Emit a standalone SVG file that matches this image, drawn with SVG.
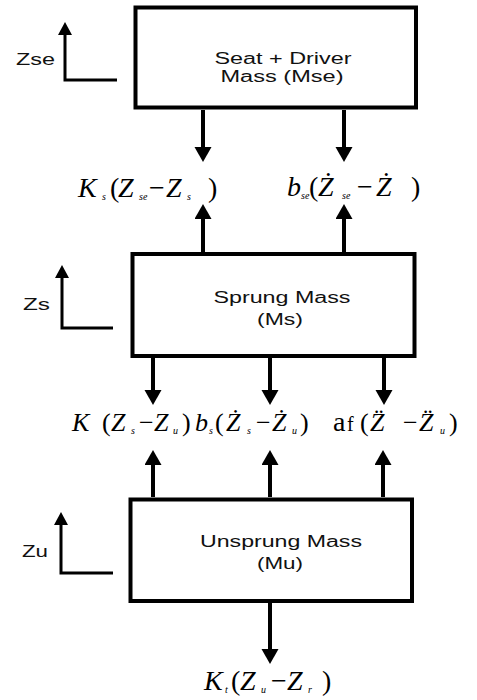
<svg xmlns="http://www.w3.org/2000/svg" width="477" height="700" viewBox="0 0 477 700">
<style>
.box{fill:#fff;stroke:#000;stroke-width:4}
.lbl{font-family:"Liberation Sans",Arial,sans-serif;font-size:16px;fill:#111;text-anchor:middle}
.ax{font-family:"Liberation Sans",Arial,sans-serif;font-size:17px;fill:#111}
.f{font-family:"Liberation Serif","Times New Roman",serif;font-size:28px;fill:#000}
.fm{font-family:"Liberation Serif","Times New Roman",serif;font-size:26px;fill:#000}
.i{font-style:italic}
.s{font-size:10px;font-style:italic}
.conn{stroke:#000;stroke-width:4;fill:none}
.axis{stroke:#000;stroke-width:3;fill:none}
</style>
<defs>
<marker id="ah" markerUnits="userSpaceOnUse" markerWidth="18" markerHeight="18" refX="3" refY="8.5" orient="auto"><path d="M0,0 L15,8.5 L0,17 z" fill="#000"/></marker>
<marker id="ah2" markerUnits="userSpaceOnUse" markerWidth="16" markerHeight="16" refX="3" refY="7" orient="auto"><path d="M0,0 L13,7 L0,14 z" fill="#000"/></marker>
</defs>
<g id="connectors">
<line class="conn" x1="203" y1="110" x2="203" y2="150" marker-end="url(#ah)"/>
<line class="conn" x1="344" y1="110" x2="344" y2="150" marker-end="url(#ah)"/>
<line class="conn" x1="203" y1="252" x2="203" y2="216" marker-end="url(#ah)"/>
<line class="conn" x1="344" y1="252" x2="344" y2="216" marker-end="url(#ah)"/>
<line class="conn" x1="153" y1="358" x2="153" y2="393" marker-end="url(#ah)"/>
<line class="conn" x1="270" y1="358" x2="270" y2="393" marker-end="url(#ah)"/>
<line class="conn" x1="384" y1="358" x2="384" y2="393" marker-end="url(#ah)"/>
<line class="conn" x1="153" y1="497" x2="153" y2="462" marker-end="url(#ah)"/>
<line class="conn" x1="270" y1="497" x2="270" y2="462" marker-end="url(#ah)"/>
<line class="conn" x1="383" y1="497" x2="383" y2="462" marker-end="url(#ah)"/>
<line class="conn" x1="270" y1="603" x2="270" y2="652" marker-end="url(#ah)"/>
</g>
<g id="axis-zse">
<polyline class="axis" points="117,80 65,80 65,32" marker-end="url(#ah2)"/>
<text class="ax" x="16" y="65" textLength="39" lengthAdjust="spacingAndGlyphs">Zse</text>
</g>
<g id="axis-zs">
<polyline class="axis" points="113,328 62,328 62,275" marker-end="url(#ah2)"/>
<text class="ax" x="23" y="310" textLength="27" lengthAdjust="spacingAndGlyphs">Zs</text>
</g>
<g id="axis-zu">
<polyline class="axis" points="113,573 61,573 61,522" marker-end="url(#ah2)"/>
<text class="ax" x="22" y="557" textLength="26" lengthAdjust="spacingAndGlyphs">Zu</text>
</g>
<g id="seat-driver">
<rect class="box" x="135.5" y="7.5" width="280.5" height="100"/>
<text class="lbl" x="283" y="64" textLength="137" lengthAdjust="spacingAndGlyphs">Seat + Driver</text>
<text class="lbl" x="282" y="82" textLength="123" lengthAdjust="spacingAndGlyphs">Mass (Mse)</text>
</g>
<g id="sprung">
<rect class="box" x="132.5" y="254" width="282" height="102"/>
<text class="lbl" x="282" y="303" textLength="137" lengthAdjust="spacingAndGlyphs">Sprung Mass</text>
<text class="lbl" x="280" y="325" textLength="46" lengthAdjust="spacingAndGlyphs">(Ms)</text>
</g>
<g id="unsprung">
<rect class="box" x="130.5" y="499.5" width="281.5" height="101.5"/>
<text class="lbl" x="281" y="547" textLength="162" lengthAdjust="spacingAndGlyphs">Unsprung Mass</text>
<text class="lbl" x="280" y="569" textLength="46" lengthAdjust="spacingAndGlyphs">(Mu)</text>
</g>
<g id="force-seat-spring">
<text class="f" y="197"><tspan class="i" x="78">K</tspan><tspan class="s" x="102" dy="3">s</tspan><tspan x="110" dy="-3">(</tspan><tspan class="i" x="118">Z</tspan><tspan class="s" x="139" dy="3">se</tspan><tspan x="149" dy="-3">−</tspan><tspan class="i" x="166">Z</tspan><tspan class="s" x="187" dy="3">s</tspan><tspan x="208" dy="-3">)</tspan></text>
</g>
<g id="force-seat-damper">
<text class="f" y="196"><tspan class="i" x="287">b</tspan><tspan class="s" x="301" dy="3">se</tspan><tspan x="309" dy="-3">(</tspan><tspan class="i" x="318">Ż</tspan><tspan class="s" x="342" dy="3">se</tspan><tspan x="357" dy="-3">−</tspan><tspan class="i" x="376">Ż</tspan><tspan x="411">)</tspan></text>
</g>
<g id="force-suspension">
<text class="fm" y="431"><tspan class="i" x="72">K</tspan><tspan x="102">(</tspan><tspan class="i" x="111">Z</tspan><tspan class="s" x="131" dy="3">s</tspan><tspan x="139" dy="-3">−</tspan><tspan class="i" x="154">Z</tspan><tspan class="s" x="173" dy="3">u</tspan><tspan x="182" dy="-3">)</tspan><tspan class="i" x="195">b</tspan><tspan class="s" x="209" dy="3">s</tspan><tspan x="215" dy="-3">(</tspan><tspan class="i" x="226">Ż</tspan><tspan class="s" x="247" dy="3">s</tspan><tspan x="256" dy="-3">−</tspan><tspan class="i" x="272">Ż</tspan><tspan class="s" x="292" dy="3">u</tspan><tspan x="300" dy="-3">)</tspan><tspan x="333" font-size="28">a</tspan><tspan x="347" font-size="20">f</tspan><tspan x="360">(</tspan><tspan class="i" x="370">Z̈</tspan><tspan x="403">−</tspan><tspan class="i" x="419">Z̈</tspan><tspan class="s" x="440" dy="3">u</tspan><tspan x="449" dy="-3">)</tspan></text>
</g>
<g id="force-tyre">
<text class="f" y="690"><tspan class="i" x="204">K</tspan><tspan class="s" x="225" dy="3">t</tspan><tspan x="231" dy="-3">(</tspan><tspan class="i" x="240">Z</tspan><tspan class="s" x="261" dy="3">u</tspan><tspan x="271" dy="-3">−</tspan><tspan class="i" x="287">Z</tspan><tspan class="s" x="308" dy="3">r</tspan><tspan x="322" dy="-3">)</tspan></text>
</g>
</svg>
